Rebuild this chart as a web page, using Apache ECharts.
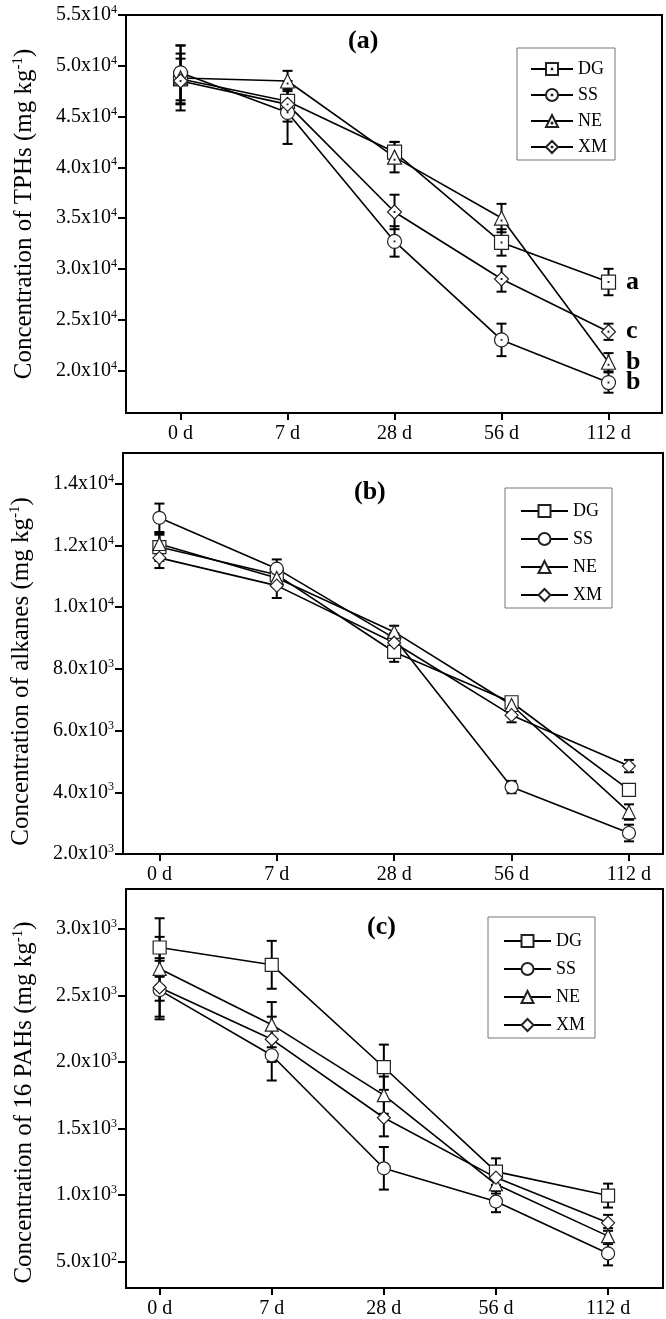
<!DOCTYPE html>
<html>
<head>
<meta charset="utf-8">
<script src="https://cdn.jsdelivr.net/npm/echarts@6/dist/echarts.min.js"></script>
<style>
html, body { margin: 0; padding: 0; background: #fff; }
#chart { width: 666px; height: 1319px; }
</style>
</head>
<body>
<div id="chart"></div>
<script>
const days = ['0 d', '7 d', '28 d', '56 d', '112 d'];
const groups = ['DG', 'SS', 'NE', 'XM'];

// (a) TPHs, mg/kg, rows in order of groups
const tphMeans = [
    [48700, 46500, 41500, 32600, 28700],
    [49300, 45400, 32700, 23000, 18800],
    [48800, 48500, 41000, 35000, 20800],
    [48500, 46200, 35600, 29000, 23800]
];
const tphErrs = [
    [2500, 1200, 1000, 1300, 1300],
    [2700, 3100, 1500, 1600, 1000],
    [3200, 1000, 1500, 1400, 900],
    [2200, 1700, 1700, 1250, 800]
];
const tphLetters = ['a', 'b', 'b', 'c'];
const tphTicks = [20000, 25000, 30000, 35000, 40000, 45000, 50000, 55000];

// (b) alkanes
const alkMeans = [
    [11950, 11050, 8550, 6920, 4080],
    [12900, 11250, 9000, 4170, 2680],
    [12050, 10950, 9200, 6830, 3360],
    [11600, 10700, 8850, 6500, 4850]
];
const alkErrs = [
    [450, 250, 320, 160, 150],
    [460, 300, 150, 200, 270],
    [300, 250, 200, 200, 250],
    [330, 400, 150, 230, 200]
];
const alkTicks = [2000, 4000, 6000, 8000, 10000, 12000, 14000];

// (c) 16 PAHs
const pahMeans = [
    [2860, 2730, 1960, 1175, 995],
    [2540, 2050, 1200, 950, 560],
    [2700, 2280, 1750, 1080, 690],
    [2560, 2170, 1580, 1130, 790]
];
const pahErrs = [
    [220, 180, 170, 100, 90],
    [220, 190, 160, 80, 90],
    [240, 170, 140, 70, 60],
    [220, 170, 140, 60, 60]
];
const pahTicks = [500, 1000, 1500, 2000, 2500, 3000];

const serif = 'Liberation Serif, Times New Roman, serif';
const dot = ' M5.7,5.7H6.3V6.3H5.7Z';
const dottedSymbols = [
    'path://M0,0H12V12H0Z' + dot,
    'path://M12,6A6,6,0,1,1,0,6A6,6,0,1,1,12,6Z' + dot,
    'path://M6,0L12,11H0Z M5.7,7.2H6.3V7.8H5.7Z',
    'path://M6,0L12,6L6,12L0,6Z' + dot
];
const plainSymbols = ['rect', 'circle', 'triangle', 'diamond'];

function sci(v) {
    const e = Math.floor(Math.log10(v) + 1e-9);
    return (v / Math.pow(10, e)).toFixed(1) + 'x10{sup|' + e + '}';
}

const panels = [
    {
        key: 'a', means: tphMeans, errs: tphErrs, ticks: tphTicks, symbols: dottedSymbols, size: 14,
        grid: { left: 126, top: 15, width: 536, height: 398 },
        x: [-0.51, 4.5], y: [15800, 55000],
        title: '(a)', titlePos: [365, 43],
        name: 'Concentration of TPHs (mg kg{sup|-1})', namePad: [0, 0, 0, 0],
        legend: { left: 517, top: 48, itemWidth: 42, itemHeight: 15, itemGap: 8, padding: [12, 8, 4, 13] },
        letters: tphLetters
    },
    {
        key: 'b', means: alkMeans, errs: alkErrs, ticks: alkTicks, symbols: plainSymbols, size: 13,
        grid: { left: 122, top: 453, width: 541, height: 401 },
        x: [-0.31, 4.29], y: [2000, 15000],
        title: '(b)', titlePos: [371, 494],
        name: 'Concentration of alkanes (mg kg{sup|-1})', namePad: [0, 36, 0, 0],
        legend: { left: 505, top: 488, itemWidth: 47, itemHeight: 15, itemGap: 10, padding: [14, 10, 4, 15] }
    },
    {
        key: 'c', means: pahMeans, errs: pahErrs, ticks: pahTicks, symbols: plainSymbols, size: 13,
        grid: { left: 126, top: 889, width: 537, height: 400 },
        x: [-0.3, 4.49], y: [300, 3300],
        title: '(c)', titlePos: [384, 929],
        name: 'Concentration of 16 PAHs (mg kg{sup|-1})', namePad: [0, 28, 0, 0],
        legend: { left: 488, top: 917, itemWidth: 47, itemHeight: 15, itemGap: 10, padding: [15, 10, 4, 15] }
    }
];

const option = {
    animation: false,
    backgroundColor: '#fff',
    textStyle: { fontFamily: serif },
    grid: [], xAxis: [], yAxis: [], legend: [], series: [], graphic: []
};

panels.forEach((p, k) => {
    option.grid.push(Object.assign({ show: true, borderColor: '#000', borderWidth: 2 }, p.grid));
    option.xAxis.push({
        type: 'value', gridIndex: k, min: p.x[0], max: p.x[1],
        axisLine: { show: false, onZero: false },
        splitLine: { show: false },
        axisTick: { show: true, length: 7, lineStyle: { color: '#000', width: 2 }, customValues: [0, 1, 2, 3, 4] },
        axisLabel: {
            customValues: [0, 1, 2, 3, 4], margin: 11, color: '#000', fontSize: 20, fontFamily: serif,
            formatter: v => days[v]
        }
    });
    option.yAxis.push({
        type: 'value', gridIndex: k, min: p.y[0], max: p.y[1],
        name: p.name, nameLocation: 'middle', nameRotate: 90, nameGap: 88,
        nameTextStyle: {
            color: '#000', fontSize: 25, fontFamily: serif, padding: p.namePad,
            rich: { sup: { fontSize: 15, fontFamily: serif, color: '#000', padding: [0, 0, 12, 0] } }
        },
        axisLine: { show: false, onZero: false },
        splitLine: { show: false },
        axisTick: { show: true, length: 8, lineStyle: { color: '#000', width: 2 }, customValues: p.ticks },
        axisLabel: {
            customValues: p.ticks, margin: 9, color: '#000', fontSize: 20, fontFamily: serif,
            formatter: v => sci(v),
            rich: { sup: { fontSize: 12, fontFamily: serif, color: '#000', padding: [0, 0, 10, 0] } }
        }
    });
    option.legend.push(Object.assign({
        orient: 'vertical', selectedMode: false,
        borderColor: '#777', borderWidth: 1,
        data: groups.map(g => p.key + '-' + g),
        formatter: n => n.slice(2),
        textStyle: { fontSize: 18, fontFamily: serif, color: '#000' }
    }, p.legend));
    option.graphic.push({
        type: 'text', left: p.titlePos[0] - 17, top: p.titlePos[1] - 15,
        style: { text: p.title, font: 'bold 26px ' + serif, fill: '#000' }
    });

    groups.forEach((g, i) => {
        const means = p.means[i];
        const errs = p.errs[i];
        option.series.push({
            type: 'custom', xAxisIndex: k, yAxisIndex: k, z: 1, silent: true,
            renderItem: (params, api) => {
                const top = api.coord([api.value(0), api.value(2)]);
                const bot = api.coord([api.value(0), api.value(1)]);
                const st = { stroke: '#000', lineWidth: 2 };
                const w = 5;
                return {
                    type: 'group', children: [
                        { type: 'line', shape: { x1: top[0], y1: top[1], x2: bot[0], y2: bot[1] }, style: st },
                        { type: 'line', shape: { x1: top[0] - w, y1: top[1], x2: top[0] + w, y2: top[1] }, style: st },
                        { type: 'line', shape: { x1: bot[0] - w, y1: bot[1], x2: bot[0] + w, y2: bot[1] }, style: st }
                    ]
                };
            },
            encode: { x: 0, y: [1, 2] },
            data: means.map((m, j) => [j, m - errs[j], m + errs[j]])
        });
        const data = means.map((m, j) => {
            const item = { value: [j, m] };
            if (p.letters && j === means.length - 1) {
                item.label = {
                    show: true, position: 'right', distance: 10, formatter: p.letters[i],
                    fontSize: 26, fontWeight: 'bold', fontFamily: serif, color: '#000'
                };
            }
            return item;
        });
        option.series.push({
            name: p.key + '-' + g, type: 'line', xAxisIndex: k, yAxisIndex: k, z: 3,
            symbol: p.symbols[i], symbolSize: p.size,
            lineStyle: { color: '#000', width: 1.6 },
            itemStyle: { color: '#fff', borderColor: '#222', borderWidth: 1.2 },
            emphasis: { disabled: true },
            data: data
        });
    });
});

const chart = echarts.init(document.getElementById('chart'), null, { renderer: 'canvas' });
chart.setOption(option);
</script>
</body>
</html>
